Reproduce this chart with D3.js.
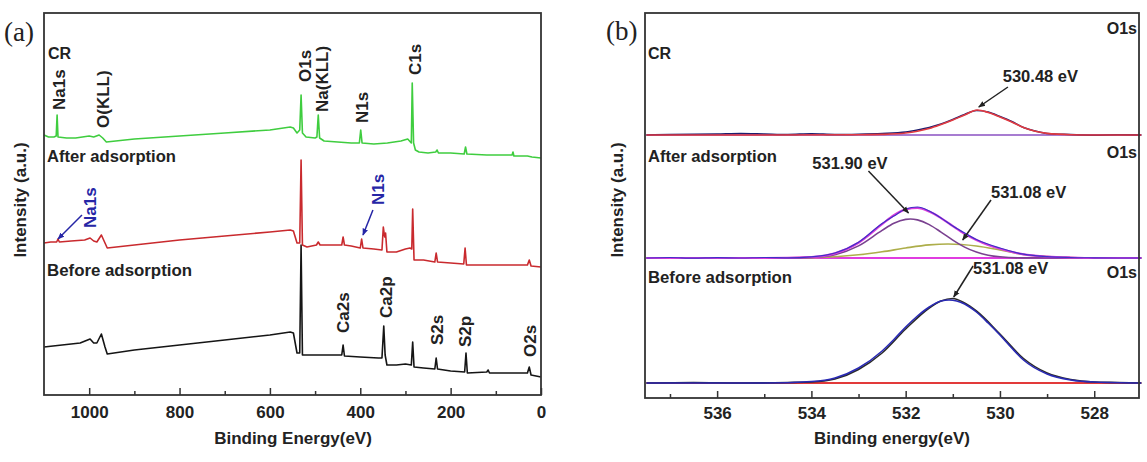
<!DOCTYPE html>
<html>
<head>
<meta charset="utf-8">
<script src="https://cdn.jsdelivr.net/npm/d3@7"></script>
<style>
  body { margin: 0; background: #fff; }
  svg text { font-family: "Liberation Sans", Arial, sans-serif; font-weight: bold; fill: #222; }
</style>
</head>
<body>
<svg id="chart" width="1147" height="462"></svg>
<script>
// ---------- panel (a): survey spectra, [binding energy (eV), intensity (a.u.)]
const surveyCR = [[1100,260],[1090,258],[1078,258],[1073,259],[1071,280],[1069,258],[1050,257],[1030,257],[1000,259],[990,258],
  [978,260],[970,257],[962,253],[900,256],[800,259],[700,262],[600,265],[555,268],[548,267],[540,262],[534,265],[531,300],[528,262],
  [520,258],[500,257],[496,258],[493,280],[490,257],[480,254],[450,253],[420,252],[402,252],[399,265],[396,252],[370,251],[340,252],
  [310,254],[295,256],[287,252],[285,312],[282,252],[278,245],[270,243],[250,242],[233,243],[230,245],[227,242],[200,242],[170,241],
  [167,248],[164,241],[120,240],[90,240],[64,240],[62,243],[60,239],[30,239],[20,238],[0,237]];
const surveyAfter = [[1100,152],[1085,153],[1072,153],[1069,156],[1066,153],[1040,154],[1010,155],[998,157],[990,154],[983,153],
  [973,160],[965,152],[960,147],[900,150],[800,155],[700,159],[600,163],[555,165],[548,164],[540,152],[534,152],[531,235],[528,150],
  [518,148],[497,150],[493,153],[489,150],[460,150],[441,150],[438,158],[435,150],[420,149],[400,147],[397,156],[394,147],[370,146],
  [352,145],[349,168],[346,158],[344,162],[341,143],[320,143],[300,146],[290,147],[286,146],[284,186],[281,135],[260,135],[235,133],
  [232,142],[229,133],[200,132],[171,131],[168,147],[165,130],[120,130],[60,130],[30,130],[26,135],[22,129],[0,128]];
const surveyBefore = [[1100,48],[1060,50],[1020,52],[998,56],[990,52],[983,52],[973,61],[965,48],[960,41],[900,45],[800,50],
  [700,55],[600,60],[555,63],[548,62],[540,42],[534,42],[531,150],[528,40],[500,40],[470,40],[441,40],[438,50],[435,39],[400,38],
  [360,37],[352,37],[348,69],[345,40],[341,30],[320,30],[300,31],[287,30],[284,53],[281,28],[260,27],[235,26],[232,37],
  [229,26],[200,24],[169,23],[166,42],[163,22],[120,23],[117,25],[114,22],[80,22],[60,22],[30,22],[26,28],[22,20],[0,18]];
const surveyTicks = [1000, 800, 600, 400, 200, 0];
const surveyMinorTicks = [900, 700, 500, 300, 100];

// peak names: energy where the name sits, intensity at the start of the (rotated) text
const surveyPeakNames = [
  {text: 'Na1s', e: 1066, at: 285}, {text: 'O(KLL)', e: 969, at: 267}, {text: 'O1s', e: 522, at: 313},
  {text: 'Na(KLL)', e: 485, at: 283}, {text: 'N1s', e: 396, at: 272}, {text: 'C1s', e: 279, at: 320},
  {text: 'Ca2s', e: 438, at: 62}, {text: 'Ca2p', e: 343, at: 77}, {text: 'S2s', e: 230, at: 50},
  {text: 'S2p', e: 168, at: 48}, {text: 'O2s', e: 24, at: 38}
];
const surveyNewPeaks = [
  {text: 'Na1s', e: 998, at: 167, from: [1016, 180], to: [1069, 156]},
  {text: 'N1s', e: 361, at: 190, from: [372, 185], to: [394, 160]}
];

// ---------- panel (b): O1s high resolution, [binding energy (eV), intensity (a.u.)]
const crBase = [[537.5,263],[527,263]];
const crRaw = [[537.5,263],[537,263.5],[536,264],[535.5,264.5],[535,264],[534.5,263.5],[534,264.2],[533.5,263.5],[533,263.8],
  [532.5,264.5],[532,266],[531.75,268],[531.5,270.5],[531.25,274],[531,278.5],[530.75,283.5],[530.5,287.5],[530.25,286],[530,281.5],
  [529.75,276.5],[529.5,270.5],[529.25,267],[529,264.5],[528.5,263.5],[528,262.8],[527.5,263.2],[527,263]];
const crFit = [[537.5,263],[535,263],[533,263.2],[532.5,263.6],[532,265],[531.75,266.8],[531.5,269.5],[531.25,273.5],[531,278],
  [530.75,283],[530.48,288],[530.25,285.5],[530,281],[529.75,276],[529.5,270.5],[529.25,266.8],[529,264.6],[528.5,263.3],[528,263],[527,263]];

const afterBase = [[537.5,140],[527,140]];
const afterPeak2 = [[537.5,140],[535,140],[534,140.4],[533.5,141.3],[533,143.2],[532.5,146.2],[532,150],[531.5,153.1],[531.1,154],
  [530.5,152],[530,148],[529.5,143.5],[529,141.5],[528.5,140.5],[528,140],[527,140]];
const afterPeak1 = [[537.5,140],[534.5,140],[534,140.6],[533.5,143.3],[533,152.1],[532.5,167.6],[532.25,174.7],[532,178.6],[531.9,179],
  [531.75,178.1],[531.5,173.4],[531.25,165.9],[531,157.9],[530.75,150.9],[530.5,145.9],[530.25,142.8],[530,141.2],[529.5,140.1],[527,140]];
const afterFit = [[537.5,140],[535,140],[534,141],[533.5,144.6],[533,155.3],[532.5,173.8],[532.25,182.8],[532,188.6],[531.75,190],
  [531.5,186.5],[531.25,179.9],[531,171.9],[530.75,164.2],[530.5,158],[530.25,153],[530,149.2],[529.5,143.6],[529,141.5],[528.5,140.5],[528,140],[527,140]];
const afterRaw = [[537.5,140],[537,140.5],[536.5,139.8],[536,140.3],[535.5,140],[535,140.5],[534.5,140.2],[534,141.2],[533.5,145],
  [533,155.8],[532.5,174.5],[532.25,182],[532,189],[531.75,191],[531.5,187],[531.25,180],[531,172],[530.75,165],[530.5,158.5],
  [530,150],[529.5,143.8],[529,141.3],[528.5,140.5],[528,140.2],[527.5,140],[527,140]];

const beforeBase = [[537.5,15],[527,15]];
const beforeFit = [[537.5,15],[535,15],[534,16.5],[533.5,20],[533,30],[532.5,47],[532.25,58.5],[532,71],[531.75,82],[531.5,91],
  [531.25,97],[531.08,98],[530.75,94],[530.5,86],[530.25,75],[530,63],[529.75,50],[529.5,38],[529,24],[528.5,18],[528,16],[527,15]];
const beforeRaw = [[537.5,15],[536.5,15.5],[535.5,15],[534.5,15.5],[534,16],[533.5,19],[533,28.5],[532.5,45],[532,69],[531.5,90],
  [531.25,97],[531,99.5],[530.75,95],[530.5,87],[530,64],[529.5,39.5],[529,25],[528.5,18.5],[528,16],[527.5,15.5],[527,15]];

const o1sTicks = [536, 534, 532, 530, 528];
const o1sMinorTicks = [537, 535, 533, 531, 529];
const sectionNames = ['CR', 'After adsorption', 'Before adsorption'];

// annotations: text position and arrow ends in data units
const o1sNotes = [
  {text: '530.48 eV', at: [529.94, 316], from: [529.83, 311], to: [530.45, 291]},
  {text: '531.90 eV', at: [533.98, 229], from: [532.79, 227], to: [531.94, 185]},
  {text: '531.08 eV', at: [530.19, 200], from: [530.19, 198], to: [530.79, 158]},
  {text: '531.08 eV', at: [530.57, 124], from: [530.57, 132], to: [530.98, 101]}
];

const svg = d3.select('#chart');

svg.append('defs').append('marker')
  .attr('id', 'head')
  .attr('viewBox', '0 0 10 10')
  .attr('refX', 9).attr('refY', 5)
  .attr('markerWidth', 7).attr('markerHeight', 7)
  .attr('markerUnits', 'userSpaceOnUse')
  .attr('orient', 'auto')
  .append('path').attr('d', 'M0,1 L10,5 L0,9 Z').attr('fill', 'context-stroke');

function drawFrame(x0, y0, x1, y1) {
  svg.append('rect')
    .attr('x', x0).attr('y', y0)
    .attr('width', x1 - x0).attr('height', y1 - y0)
    .attr('fill', 'none').attr('stroke', '#333').attr('stroke-width', 1.8);
}

function drawAxis(x, yBottom, ticks, minor, pad) {
  const major = svg.append('g')
    .attr('transform', `translate(0,${yBottom})`)
    .call(d3.axisBottom(x).tickValues(ticks).tickSize(-7).tickPadding(pad).tickFormat(d3.format('d')));
  major.select('.domain').remove();
  major.selectAll('line').attr('stroke', '#333').attr('stroke-width', 1.5);
  major.selectAll('text').attr('font-size', 17).attr('fill', '#222')
    .style('font-family', '"Liberation Sans", Arial, sans-serif').style('font-weight', 'bold');

  const small = svg.append('g')
    .attr('transform', `translate(0,${yBottom})`)
    .call(d3.axisBottom(x).tickValues(minor).tickSize(-4).tickFormat(''));
  small.select('.domain').remove();
  small.selectAll('line').attr('stroke', '#333').attr('stroke-width', 1.5);
}

function drawLine(data, x, y, color, width, curve) {
  svg.append('path')
    .datum(data)
    .attr('fill', 'none')
    .attr('stroke', color)
    .attr('stroke-width', width)
    .attr('stroke-linejoin', 'round')
    .attr('d', d3.line().x(d => x(d[0])).y(d => y(d[1])).curve(curve));
}

function label(x, y, text, size, width) {
  const t = svg.append('text')
    .attr('x', x).attr('y', y)
    .attr('font-size', size)
    .text(text);
  if (width) t.attr('textLength', width).attr('lengthAdjust', 'spacingAndGlyphs');
  return t;
}

// ================= panel (a)
const xA = d3.scaleLinear().domain([1100, 0]).range([44, 541]);
const yA = d3.scaleLinear().domain([0, 382]).range([395, 13]);

drawLine(surveyBefore, xA, yA, '#151515', 1.6, d3.curveLinear);
drawLine(surveyAfter, xA, yA, '#c92a2e', 1.6, d3.curveLinear);
drawLine(surveyCR, xA, yA, '#3fcd3f', 1.6, d3.curveLinear);

drawFrame(44, 13, 541, 395);
drawAxis(xA, 395, surveyTicks, surveyMinorTicks, 11);

surveyPeakNames.forEach(p => {
  svg.append('text')
    .attr('transform', `translate(${xA(p.e)},${yA(p.at)}) rotate(-90)`)
    .attr('dy', '0.36em')
    .attr('font-size', 17)
    .text(p.text);
});

surveyNewPeaks.forEach(p => {
  svg.append('text')
    .attr('transform', `translate(${xA(p.e)},${yA(p.at)}) rotate(-90)`)
    .attr('dy', '0.36em')
    .attr('font-size', 17)
    .style('fill', '#2626a6')
    .text(p.text);
  svg.append('line')
    .attr('x1', xA(p.from[0])).attr('y1', yA(p.from[1]))
    .attr('x2', xA(p.to[0])).attr('y2', yA(p.to[1]))
    .attr('stroke', '#2626a6').attr('stroke-width', 1.5)
    .attr('marker-end', 'url(#head)');
});

label(48, 59, sectionNames[0], 16);
label(47, 162, sectionNames[1], 16, 129);
label(47, 276, sectionNames[2], 16, 145);

svg.append('text')
  .attr('transform', 'translate(26,200) rotate(-90)')
  .attr('text-anchor', 'middle')
  .attr('font-size', 17)
  .text('Intensity (a.u.)');
svg.append('text')
  .attr('x', 293).attr('y', 444)
  .attr('text-anchor', 'middle')
  .attr('font-size', 17)
  .text('Binding Energy(eV)');
svg.append('text')
  .attr('x', 4).attr('y', 41)
  .attr('font-size', 27)
  .style('font-family', '"Liberation Serif", "Times New Roman", serif')
  .style('font-weight', 'normal')
  .text('(a)');

// ================= panel (b)
const xB = d3.scaleLinear().domain([537.53, 527.05]).range([645, 1139]);
const yB = d3.scaleLinear().domain([0, 385]).range([398, 13]);
const smooth = d3.curveMonotoneX;

drawLine(crBase, xB, yB, '#8a50c2', 1.6, smooth);
drawLine(crRaw, xB, yB, '#1d1d6e', 1.6, smooth);
drawLine(crFit, xB, yB, '#e23a40', 1.6, smooth);

drawLine(afterBase, xB, yB, '#e03ce0', 2, smooth);
drawLine(afterPeak2, xB, yB, '#adae4a', 1.6, smooth);
drawLine(afterPeak1, xB, yB, '#7a4190', 1.6, smooth);
drawLine(afterFit, xB, yB, '#db3cdb', 2.2, smooth);
drawLine(afterRaw, xB, yB, '#4030c8', 1.2, smooth);

drawLine(beforeBase, xB, yB, '#e23a3a', 2, smooth);
drawLine(beforeRaw, xB, yB, '#2a2a2a', 1.6, smooth);
drawLine(beforeFit, xB, yB, '#2a2ab4', 1.6, smooth);

drawFrame(645, 13, 1139, 398);
drawAxis(xB, 398, o1sTicks, o1sMinorTicks, 9);

o1sNotes.forEach(n => {
  svg.append('text')
    .attr('x', xB(n.at[0])).attr('y', yB(n.at[1]))
    .attr('font-size', 16.5)
    .text(n.text);
  svg.append('line')
    .attr('x1', xB(n.from[0])).attr('y1', yB(n.from[1]))
    .attr('x2', xB(n.to[0])).attr('y2', yB(n.to[1]))
    .attr('stroke', '#222').attr('stroke-width', 1.5)
    .attr('marker-end', 'url(#head)');
});

label(648, 59, sectionNames[0], 16);
label(648, 162, sectionNames[1], 16, 129);
label(648, 283, sectionNames[2], 16, 144);

[34, 158, 278].forEach(y => {
  svg.append('text')
    .attr('x', 1137).attr('y', y)
    .attr('text-anchor', 'end')
    .attr('font-size', 16)
    .text('O1s');
});

svg.append('text')
  .attr('transform', 'translate(623,200) rotate(-90)')
  .attr('text-anchor', 'middle')
  .attr('font-size', 17)
  .text('Intensity (a.u.)');
svg.append('text')
  .attr('x', 892).attr('y', 444)
  .attr('text-anchor', 'middle')
  .attr('font-size', 17)
  .text('Binding energy(eV)');
svg.append('text')
  .attr('x', 606).attr('y', 40)
  .attr('font-size', 27)
  .style('font-family', '"Liberation Serif", "Times New Roman", serif')
  .style('font-weight', 'normal')
  .text('(b)');
</script>
</body>
</html>
